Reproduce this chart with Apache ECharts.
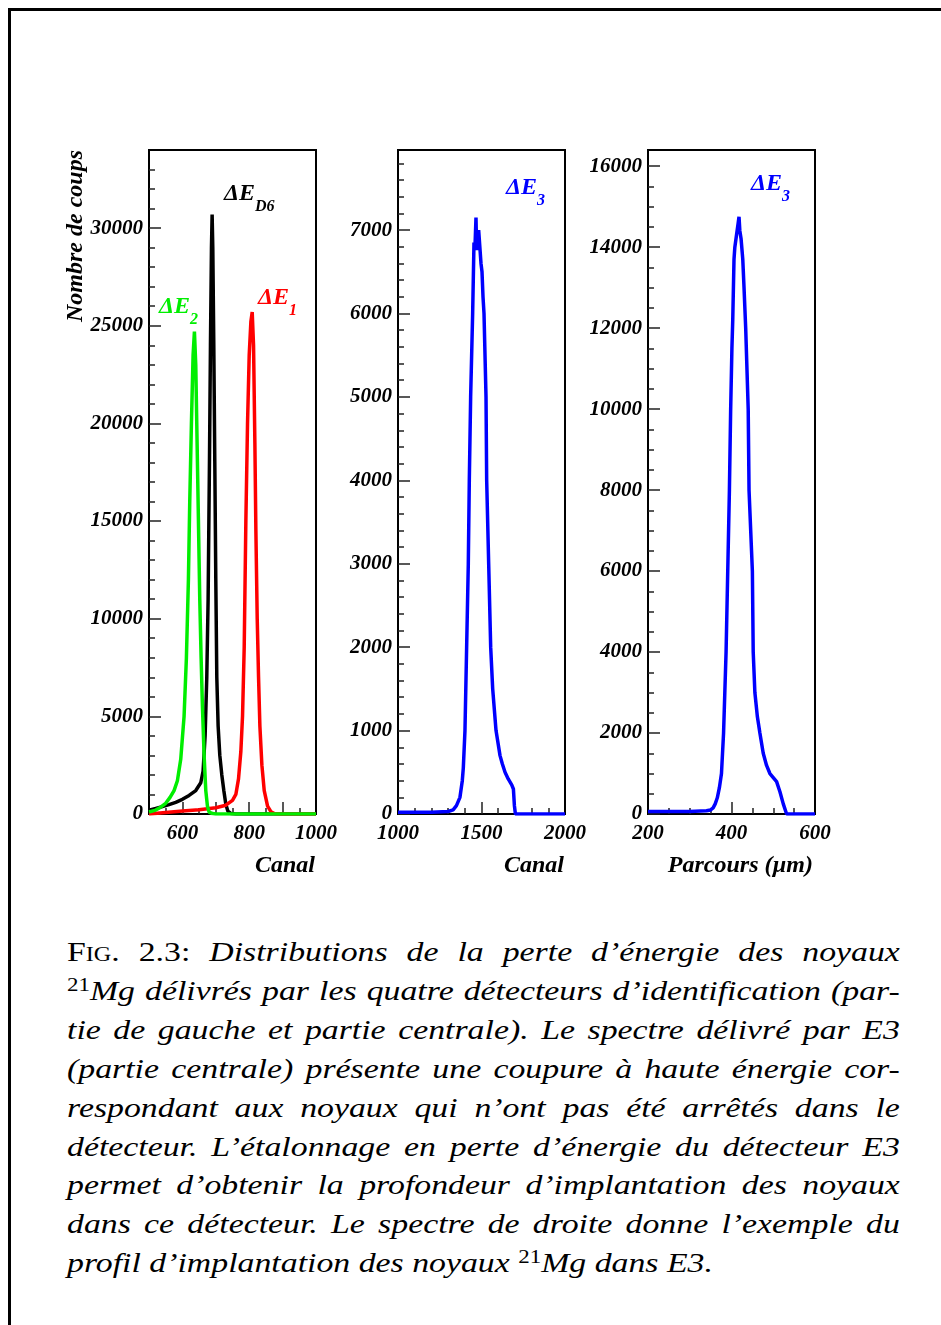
<!DOCTYPE html>
<html>
<head>
<meta charset="utf-8">
<script src="https://cdn.jsdelivr.net/npm/echarts@6/dist/echarts.min.js"></script>
<style>
  body { margin: 0; background: #fff; }
  #page { position: relative; width: 941px; height: 1325px; overflow: hidden; background: #fff; }
  #frame { position: absolute; left: 8px; top: 8px; right: -10px; bottom: -10px; border-top: 3px solid #000; border-left: 3px solid #000; }
  #chart { position: absolute; left: 0; top: 0; width: 941px; height: 900px; }
  #caption { position: absolute; left: 67px; top: 933px; width: 833px; font-family: 'Liberation Serif', serif; font-style: italic; font-size: 28px; line-height: 38.9px; color: #000; }
  /* l'italique de Computer Modern est plus large : on étire un peu chaque ligne */
  #caption div { width: 690px; white-space: nowrap; text-align: justify; text-align-last: justify; transform: scaleX(1.207); transform-origin: 0 0; }
  #caption div.last { text-align: left; text-align-last: left; }
  #caption .up { font-style: normal; }
  #caption .sc { font-style: normal; font-variant: small-caps; }
  #caption sup { font-style: normal; font-size: 19px; vertical-align: 0.5em; line-height: 0; }
</style>
</head>
<body>
<div id="page">
  <div id="frame"></div>
  <div id="chart"></div>
  <div id="caption">
    <div><span class="sc">Fig.</span><span class="up"> 2.3:</span> Distributions de la perte d’énergie des noyaux</div>
    <div><sup>21</sup>Mg délivrés par les quatre détecteurs d’identification (par-</div>
    <div>tie de gauche et partie centrale). Le spectre délivré par E3</div>
    <div>(partie centrale) présente une coupure à haute énergie cor-</div>
    <div>respondant aux noyaux qui n’ont pas été arrêtés dans le</div>
    <div>détecteur. L’étalonnage en perte d’énergie du détecteur E3</div>
    <div>permet d’obtenir la profondeur d’implantation des noyaux</div>
    <div>dans ce détecteur. Le spectre de droite donne l’exemple du</div>
    <div class="last">profil d’implantation des noyaux <sup>21</sup>Mg dans E3.</div>
  </div>
</div>
<script>
// panneau de gauche : ΔE2 (vert), ΔED6 (noir), ΔE1 (rouge)
const de2Canal = [500, 520, 535, 550, 563, 575, 585, 595, 605, 612, 618, 622, 627, 632, 636, 640, 645, 648, 652, 656, 660, 665, 670, 675, 680, 690, 700, 1000];
const de2Coups = [100, 200, 350, 550, 850, 1200, 1700, 2800, 5000, 8000, 12000, 16000, 20000, 23500, 24700, 23000, 18000, 15000, 11000, 8000, 5500, 3000, 1200, 400, 100, 20, 0, 0];

const deD6Canal = [500, 520, 540, 560, 580, 600, 620, 640, 655, 662, 668, 673, 677, 681, 684, 687, 689, 691, 694, 697, 700, 703, 707, 712, 718, 724, 730, 736, 745, 760, 1000];
const deD6Coups = [200, 280, 380, 480, 600, 750, 950, 1200, 1600, 2200, 4000, 7000, 11000, 18000, 24000, 29000, 30700, 29000, 24000, 18000, 12000, 7000, 4500, 3000, 2000, 1200, 500, 150, 30, 0, 0];

const de1Canal = [500, 550, 600, 650, 700, 730, 750, 760, 768, 775, 780, 785, 790, 795, 800, 805, 809, 813, 817, 820, 824, 828, 832, 838, 845, 855, 865, 875, 900, 1000];
const de1Coups = [0, 80, 150, 220, 320, 450, 700, 1000, 1800, 3200, 5000, 8500, 15000, 20000, 23500, 25200, 25700, 24000, 19000, 14500, 10000, 7000, 4500, 2500, 1200, 400, 120, 20, 0, 0];

// panneau central : ΔE3 en canaux
const de3Canal = [1000, 1100, 1200, 1300, 1330, 1350, 1371, 1385, 1391, 1401, 1411, 1421, 1427, 1435, 1447, 1455, 1461, 1467, 1471, 1477, 1483, 1491, 1497, 1503, 1509, 1515, 1527, 1531, 1543, 1555, 1567, 1587, 1611, 1625, 1641, 1660, 1681, 1691, 1697, 1703, 1800, 2000];
const de3Coups = [20, 20, 20, 30, 50, 100, 200, 400, 550, 1000, 2000, 3000, 4000, 5000, 6000, 6850, 6800, 7150, 6760, 6900, 7000, 7000, 6600, 6500, 6200, 6000, 5000, 4000, 3000, 2000, 1500, 1000, 700, 600, 500, 420, 350, 300, 100, 0, 0, 0];

// panneau de droite : profil d'implantation
const parcours = [200, 250, 300, 340, 350, 356, 361, 366, 371, 376, 381, 387, 391, 395, 398, 401, 403, 406, 408, 412, 416, 418, 420, 423, 427, 430, 434, 440, 442, 448, 450, 452, 456, 462, 468, 476, 484, 492, 500, 508, 516, 524, 532, 540, 600];
const parcoursCoups = [60, 60, 60, 80, 100, 150, 250, 400, 650, 1000, 2000, 4000, 6000, 8000, 10000, 11500, 12200, 13700, 14000, 14300, 14600, 14750, 14400, 14200, 13700, 13000, 12000, 10000, 8000, 6500, 6000, 4000, 3000, 2400, 2000, 1500, 1200, 1000, 900, 800, 550, 250, 0, 0, 0];

// graduations
const p1XLabels = [600, 800, 1000];
const p1YLabels = [0, 5000, 10000, 15000, 20000, 25000, 30000];
const p2XLabels = [1000, 1500, 2000];
const p2YLabels = [0, 1000, 2000, 3000, 4000, 5000, 6000, 7000];
const p3XLabels = [200, 400, 600];
const p3YLabels = [0, 2000, 4000, 6000, 8000, 10000, 12000, 14000, 16000];

function steps(min, max, step, skip) {
  const out = [];
  for (let v = min; v <= max; v += step) {
    if (skip && v % skip === 0) continue;
    out.push(v);
  }
  return out;
}

function zip(xs, ys) {
  return xs.map((x, i) => [x, ys[i]]);
}

const FONT = 'Liberation Serif';
const labelStyle = { fontFamily: FONT, fontStyle: 'italic', fontWeight: 'bold', fontSize: 21, color: '#000' };

// deux axes par dimension : graduations principales + libellés, puis graduations secondaires
function axes(gridIndex, min, max, major, labels, minor, margin) {
  return [
    {
      type: 'value', gridIndex: gridIndex, min: min, max: max,
      axisLine: { show: true, lineStyle: { color: '#000', width: 2 } },
      axisTick: { show: true, inside: true, length: 12, customValues: major, lineStyle: { color: '#222', width: 1.5 } },
      axisLabel: Object.assign({ show: true, margin: margin, customValues: labels, formatter: v => String(v) }, labelStyle),
      splitLine: { show: false }
    },
    {
      type: 'value', gridIndex: gridIndex, min: min, max: max,
      axisLine: { show: false },
      axisTick: { show: true, inside: true, length: 6, customValues: minor, lineStyle: { color: '#222', width: 1.5 } },
      axisLabel: { show: false },
      splitLine: { show: false }
    }
  ];
}

const xAxes = [].concat(
  axes(0, 500, 1000, steps(600, 900, 100), p1XLabels, steps(550, 950, 100), 9),
  axes(1, 1000, 2000, [1500], p2XLabels, steps(1100, 1900, 100, 500), 9),
  axes(2, 200, 600, [400], p3XLabels, steps(250, 550, 50, 200), 9)
);
xAxes.forEach(a => { a.position = 'bottom'; });

const yAxes = [].concat(
  axes(0, 0, 34000, p1YLabels, p1YLabels, steps(1000, 33000, 1000, 5000), 6),
  axes(1, 0, 7960, p2YLabels, p2YLabels, steps(200, 7800, 200, 1000), 6),
  axes(2, 0, 16400, p3YLabels, p3YLabels, steps(500, 16000, 500, 2000), 6)
);
yAxes.forEach(a => { a.position = 'left'; });

function spectre(name, xs, ys, color, gridIdx) {
  return {
    name: name, type: 'line',
    xAxisIndex: gridIdx * 2, yAxisIndex: gridIdx * 2,
    data: zip(xs, ys),
    showSymbol: false, symbol: 'none',
    lineStyle: { color: color, width: 3.5 },
    itemStyle: { color: color },
    silent: true
  };
}

function delta(sub, color, x, y) {
  return {
    type: 'text', x: x, y: y, z: 100,
    style: {
      text: '{a|ΔE}{b|' + sub + '}',
      fill: color,
      rich: {
        a: { fontFamily: FONT, fontStyle: 'italic', fontWeight: 'bold', fontSize: 24, lineHeight: 26, verticalAlign: 'top', fill: color, color: color },
        b: { fontFamily: FONT, fontStyle: 'italic', fontWeight: 'bold', fontSize: 16, lineHeight: 16, padding: [17, 0, 0, 0], verticalAlign: 'top', fill: color, color: color }
      }
    }
  };
}

function axisName(text, x, y, rot) {
  return {
    type: 'text', x: x, y: y, rotation: rot || 0, z: 100,
    style: {
      text: text, fill: '#000',
      font: 'italic bold 24px "' + FONT + '"',
      align: 'right', textAlign: 'right',
      verticalAlign: 'middle', textVerticalAlign: 'middle'
    }
  };
}

const chart = echarts.init(document.getElementById('chart'));
chart.setOption({
  animation: false,
  backgroundColor: 'transparent',
  grid: [
    { left: 149, top: 150, width: 167, height: 664, show: true, borderColor: '#000', borderWidth: 2 },
    { left: 398, top: 150, width: 167, height: 664, show: true, borderColor: '#000', borderWidth: 2 },
    { left: 648, top: 150, width: 167, height: 664, show: true, borderColor: '#000', borderWidth: 2 }
  ],
  xAxis: xAxes,
  yAxis: yAxes,
  series: [
    spectre('ΔED6', deD6Canal, deD6Coups, '#000000', 0),
    spectre('ΔE1', de1Canal, de1Coups, '#ff0000', 0),
    spectre('ΔE2', de2Canal, de2Coups, '#00ee00', 0),
    spectre('ΔE3', de3Canal, de3Coups, '#0000ff', 1),
    spectre('ΔE3 parcours', parcours, parcoursCoups, '#0000ff', 2)
  ],
  graphic: [
    delta('D6', '#000000', 224, 182),
    delta('2', '#00ee00', 159, 295),
    delta('1', '#ff0000', 258, 286),
    delta('3', '#0000ff', 506, 176),
    delta('3', '#0000ff', 751, 172),
    axisName('Canal', 315, 866),
    axisName('Canal', 564, 866),
    axisName('Parcours (µm)', 813, 866),
    axisName('Nombre de coups', 76, 150, Math.PI / 2)
  ]
});
</script>
</body>
</html>
